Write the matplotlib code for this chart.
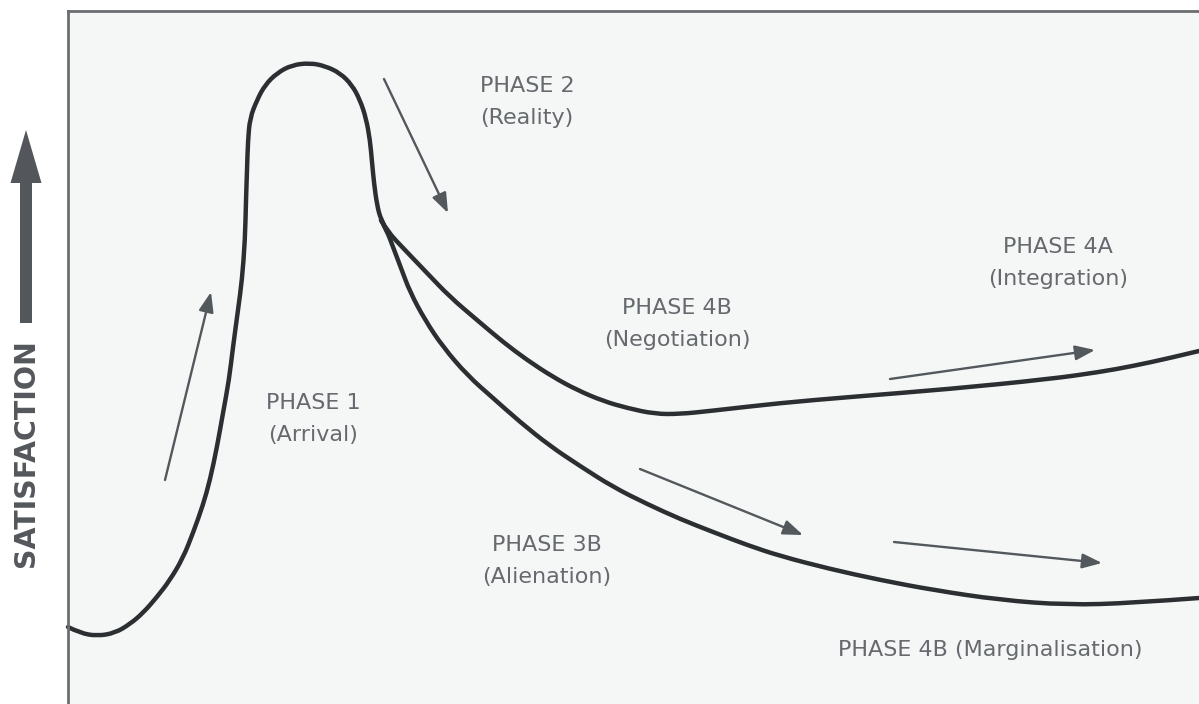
import matplotlib
matplotlib.use("Agg")
import matplotlib.pyplot as plt
from matplotlib.path import Path
from matplotlib.patches import PathPatch, FancyArrow

main_x = [68, 80, 97, 115, 130, 143, 157, 170, 183, 193, 203, 210, 217, 223, 229,
          233, 238, 242, 245, 246, 247, 248, 250, 257, 265, 277, 292, 310, 325, 340,
          352, 360, 366, 370, 372, 374, 377, 381, 387]
main_y = [627, 633, 636, 633, 624, 613, 597, 580, 558, 533, 505, 480, 447, 413, 380,
          347, 310, 280, 240, 200, 170, 140, 118, 100, 85, 73, 65, 63, 66, 73,
          85, 100, 118, 140, 162, 183, 205, 220, 231]

upper_x = [381, 387, 405, 427, 450, 477, 503, 527, 553, 577, 603, 627, 655, 680, 710,
           780, 850, 950, 1050, 1100, 1133, 1170, 1199]
upper_y = [220, 231, 250, 273, 297, 320, 342, 360, 377, 390, 401, 408, 414, 414, 411,
           403, 397, 389, 379, 372, 366, 358, 351]

lower_x = [381, 387, 393, 401, 410, 425, 443, 468, 493, 520, 550, 580, 613, 647, 680,
           713, 747, 780, 830, 880, 933, 1000, 1067, 1133, 1199]
lower_y = [220, 231, 247, 268, 292, 320, 347, 376, 398, 422, 446, 466, 487, 504, 519,
           532, 545, 556, 569, 580, 590, 600, 605, 603, 598]

# direction arrows: (tail, head)
arrows = [((165, 480), (211, 292)),
          ((384, 79), (448, 213)),
          ((890, 379), (1095, 350)),
          ((640, 469), (803, 535)),
          ((894, 542), (1102, 563))]

labels = ["PHASE 1\n(Arrival)", "PHASE 2\n(Reality)", "PHASE 4B\n(Negotiation)",
          "PHASE 4A\n(Integration)", "PHASE 3B\n(Alienation)",
          "PHASE 4B (Marginalisation)"]
label_pos = [(313, 419), (527, 102), (677, 324), (1058, 263), (547, 561), (990, 650)]

LINE = "#2b2f31"
ARROW = "#53585c"
TEXT = "#666a6e"


def smooth_path(xs, ys):
    pts = list(zip(xs, ys))
    verts = [pts[0]]
    codes = [Path.MOVETO]
    for i in range(1, len(pts) - 1):
        mid = ((pts[i][0] + pts[i + 1][0]) / 2, (pts[i][1] + pts[i + 1][1]) / 2)
        if i == len(pts) - 2:
            mid = pts[-1]
        verts += [pts[i], mid]
        codes += [Path.CURVE3, Path.CURVE3]
    return Path(verts, codes)


fig = plt.figure(figsize=(11.99, 7.04), dpi=100)
ax = fig.add_axes([68 / 1199, 0, 1 - 68 / 1199, 1 - 11 / 704])
ax.set_facecolor("#f5f7f7")
ax.set_xlim(68, 1199)
ax.set_ylim(704, 11)
ax.set_xticks([]); ax.set_yticks([])
for s in ("right", "bottom"):
    ax.spines[s].set_visible(False)
for s in ("left", "top"):
    ax.spines[s].set_color("#6a6e71")
    ax.spines[s].set_linewidth(2.0)

for xs, ys in ((main_x, main_y), (upper_x, upper_y), (lower_x, lower_y)):
    ax.add_patch(PathPatch(smooth_path(xs, ys), facecolor="none", edgecolor=LINE,
                           lw=3.2, capstyle="round", joinstyle="round", clip_on=False))

for tail, head in arrows:
    ax.annotate("", xy=head, xytext=tail,
                arrowprops=dict(arrowstyle="-|>,head_length=1.2,head_width=0.45",
                                color=ARROW, lw=1.7, shrinkA=0, shrinkB=0))

for txt, (x, y) in zip(labels, label_pos):
    ax.text(x, y, txt, ha="center", va="center", color=TEXT, fontsize=16,
            linespacing=1.72, family="DejaVu Sans")

# y-axis label with big arrow, drawn outside the axes
ax.add_patch(FancyArrow(26, 323, 0, -193, width=12, head_width=31, head_length=53,
                        length_includes_head=True, color="#53575b", lw=0, clip_on=False))
ax.text(26, 453, "SATISFACTION", rotation=90, ha="center", va="center",
        color="#53575b", fontsize=20.5, fontweight="bold", clip_on=False)

fig.savefig("out.png", dpi=100)
